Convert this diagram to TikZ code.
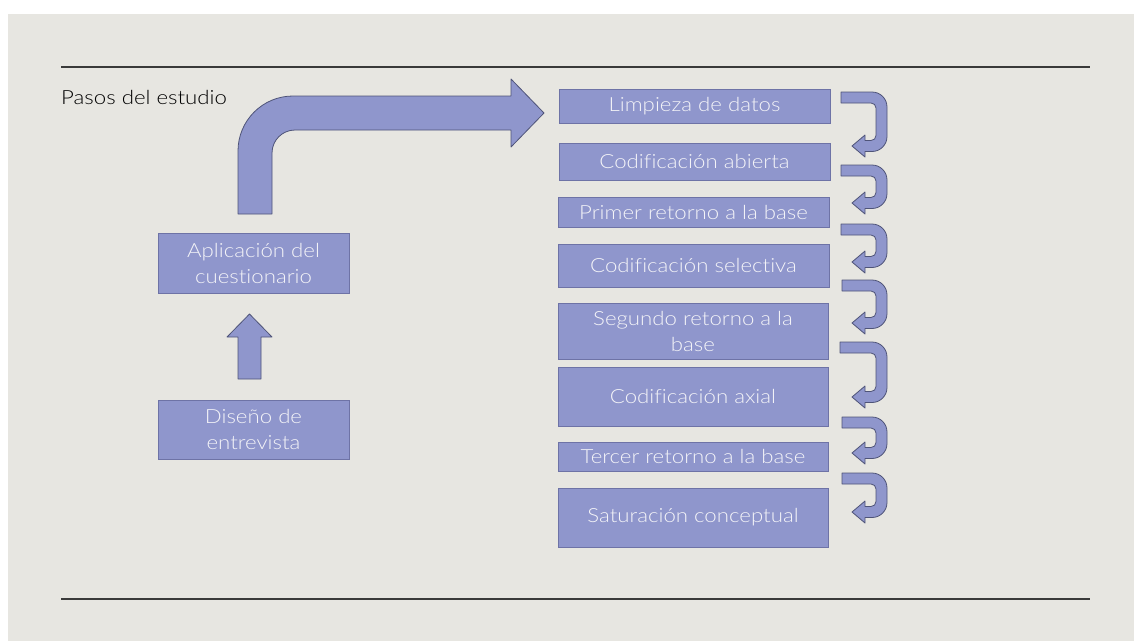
\documentclass[tikz,border=0pt]{standalone}
\usepackage{fontspec}
\setmainfont{Lato}[FakeStretch=1.14, Ligatures=NoCommon]
\IfFontExistsTF{Lato Light}
  {\newfontfamily\boxfont{Lato Light}[FakeStretch=1.14, Ligatures=NoCommon]}
  {\newfontfamily\boxfont{Lato}[FakeStretch=1.14, Ligatures=NoCommon]}
\begin{document}
\begin{tikzpicture}[x=1pt,y=-1pt,
  stepbox/.style={draw=boxline, fill=boxfill, line width=0.8pt, text=boxtext,
    inner sep=0pt, align=center, font=\boxfont\fontsize{19.5}{26}\selectfont},
  shapearrow/.style={draw=arrowline, fill=boxfill, line width=0.8pt, line join=round},
  rule/.style={draw=ruleline, line width=1.2pt}]
\definecolor{bg}{HTML}{E7E6E1}
\definecolor{boxfill}{HTML}{8F96CC}
\definecolor{boxline}{HTML}{6E73A6}
\definecolor{arrowline}{HTML}{4F5478}
\definecolor{boxtext}{HTML}{F4F4F8}
\definecolor{ruleline}{HTML}{3A3A3A}

% canvas
\useasboundingbox (0,0) rectangle (1134,641);
\fill[white] (0,0) rectangle (1134,641);
\fill[bg] (8,14) rectangle (1134,641);

% horizontal rules
\coordinate (r1a) at (61,67);  \coordinate (r1b) at (1090,67);
\coordinate (r2a) at (61,599); \coordinate (r2b) at (1090,599);
\draw[rule] (r1a) -- (r1b);
\draw[rule] (r2a) -- (r2b);

% title
\node[anchor=base west, inner sep=0pt, text=black, font=\boxfont\fontsize{19.5}{22}\selectfont]
  (title) at (61,104) {Pasos del estudio};

% left column
\node[stepbox, minimum width=191, minimum height=60] (aplic) at (253.5,263)
  {Aplicación del\\cuestionario};
\node[stepbox, minimum width=191, minimum height=59] (disenio) at (253.5,429.5)
  {Diseño de\\entrevista};

% right column
\node[stepbox, minimum width=271, minimum height=34] (s1) at (694.5,106)   {Limpieza de datos};
\node[stepbox, minimum width=271, minimum height=37] (s2) at (694.5,161.5) {Codificación abierta};
\node[stepbox, minimum width=271, minimum height=30] (s3) at (693.5,212)   {Primer retorno a la base};
\node[stepbox, minimum width=271, minimum height=43] (s4) at (693.5,265.5) {Codificación selectiva};
\node[stepbox, minimum width=270, minimum height=56] (s5) at (693,331)     {Segundo retorno a la\\base};
\node[stepbox, minimum width=270, minimum height=59] (s6) at (693,396.5)   {Codificación axial};
\node[stepbox, minimum width=270, minimum height=29] (s7) at (693,456.5)   {Tercer retorno a la base};
\node[stepbox, minimum width=270, minimum height=59] (s8) at (693,517.5)   {Saturación conceptual};

% block arrow: design -> application
\draw[shapearrow] (238,379) -- (238,337) -- (227,337) -- (249.5,314) -- (272,337)
  -- (261,337) -- (261,379) -- cycle;

% bent block arrow: application -> data cleaning
\draw[shapearrow] (238,214) -- (238,151)
  .. controls (238,120.6) and (262.6,96) .. (293,96)
  -- (511,96) -- (511,79) -- (544,113) -- (511,147) -- (511,130) -- (295,130)
  .. controls (282.3,130) and (272,140.3) .. (272,153)
  -- (272,214) -- cycle;

% hook arrows between consecutive steps: #1 left x, #2 top y, #3 head centre y
\newcommand{\hookarrow}[3]{%
  \draw[shapearrow] (#1,#2) -- (872,#2)
    .. controls (880.3,#2) and (887,#2+6.7) .. (887,#2+15)
    -- (887,#3-9.5)
    .. controls (887,#3-1.2) and (880.3,#3+5.5) .. (872,#3+5.5)
    -- (865,#3+5.5) -- (865,#3+11) -- (852,#3) -- (865,#3-11) -- (865,#3-5.5)
    -- (871,#3-5.5)
    .. controls (873.8,#3-5.5) and (876,#3-7.7) .. (876,#3-10.5)
    -- (876,#2+16)
    .. controls (876,#2+13.2) and (873.8,#2+11) .. (871,#2+11)
    -- (#1,#2+11) -- cycle;}
\hookarrow{841}{92}{146}
\hookarrow{841}{165}{203}
\hookarrow{841}{224}{262}
\hookarrow{842}{280}{323}
\hookarrow{840}{342}{397}
\hookarrow{842}{417}{453}
\hookarrow{842}{473}{512}
\end{tikzpicture}
\end{document}
